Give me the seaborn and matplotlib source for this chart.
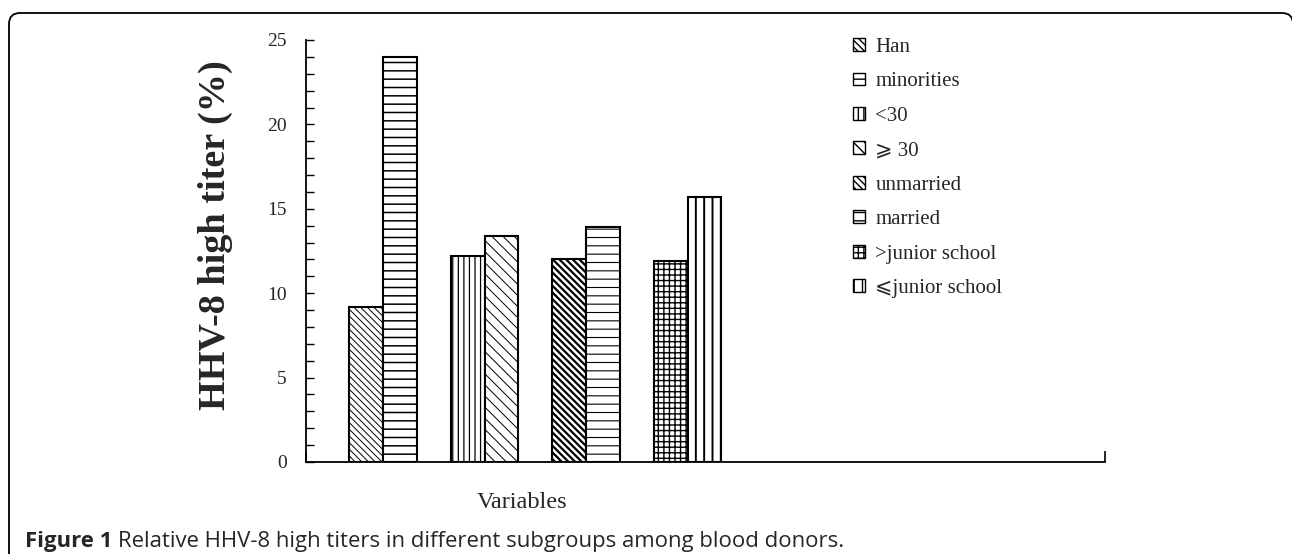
import matplotlib
matplotlib.use("Agg")
import matplotlib.pyplot as plt
import matplotlib.transforms as mtransforms
from matplotlib.patches import FancyBboxPatch, Patch
import seaborn as sns
import pandas as pd

# ---- data ----
groups = ["Ethnicity", "Age", "Marital status", "Education"]
slots = ["first", "second"]
labels = ["Han", "minorities", "<30", "\u2A7E 30", "unmarried", "married",
          ">junior school", "\u2A7Djunior school"]
values = [9.2, 24.0, 12.2, 13.4, 12.0, 13.9, 11.9, 15.7]
yticks = [0, 5, 10, 15, 20, 25]

hatches = ["\\" * 5, "--", "|||", "\\" * 3, "\\" * 5, "--", "+++", "||"]
hatch_lw = [0.7, 1.1, 0.9, 0.7, 1.6, 0.8, 1.0, 1.4]

df = pd.DataFrame({
    "group": [g for g in groups for _ in slots],
    "slot": slots * len(groups),
    "value": values,
})

sns.set_theme(style="white")
serif = ["Liberation Serif", "DejaVu Serif", "DejaVu Sans"]
plt.rcParams["font.family"] = serif
plt.rcParams["hatch.linewidth"] = 1.0
plt.rcParams["hatch.color"] = "black"

W, H = 1292, 554
fig = plt.figure(figsize=(W / 100, H / 100), dpi=100)
fig.patch.set_facecolor("white")

ax_left, ax_right, ax_bottom, ax_top = 306, 1105, 462, 40
ax = fig.add_axes([ax_left / W, 1 - ax_bottom / H,
                   (ax_right - ax_left) / W, (ax_bottom - ax_top) / H])

sns.barplot(data=df, x="group", y="value", hue="slot", order=groups,
            hue_order=slots, palette=["white", "white"], saturation=1,
            edgecolor="black", linewidth=1.5, width=0.667, errorbar=None,
            legend=False, ax=ax)


def style_patch(p, idx):
    p.set_hatch(hatches[idx])
    p.set_facecolor("white")
    p.set_edgecolor("black")
    if hasattr(p, "set_hatch_linewidth"):
        p.set_hatch_linewidth(hatch_lw[idx])


for si, cont in enumerate(ax.containers):
    for gi, bar in enumerate(cont):
        style_patch(bar, 2 * gi + si)

xmin, xmax = -0.759, 7.113
ax.set_xlim(xmin, xmax)
ax.set_ylim(0, 25)
ax.set_xticks([xmin, xmax])
ax.set_xticklabels([])
ax.set_yticks(yticks)
ax.set_yticklabels([str(v) for v in yticks], fontsize=14, family=serif)
ax.set_yticks(range(0, 26), minor=True)
ax.tick_params(axis="x", direction="in", length=8, width=1.2, color="black", bottom=True)
ax.tick_params(axis="y", which="both", direction="in", length=6, width=1.0,
               color="black", left=True, pad=14)
ax.set_xlabel("")
ax.set_ylabel("HHV-8 high titer (%)", fontsize=27.5, fontweight="bold", family=serif)
ax.yaxis.set_label_coords((233 - ax_left) / (ax_right - ax_left), 0.538)

for s in ["top", "right"]:
    ax.spines[s].set_visible(False)
for s in ["left", "bottom"]:
    ax.spines[s].set_color("black")
    ax.spines[s].set_linewidth(1.3)
ax.set_facecolor("white")

ax.text((522 - ax_left) / (ax_right - ax_left), (ax_bottom - 503) / (ax_bottom - ax_top),
        "Variables", transform=ax.transAxes, ha="center", va="center",
        fontsize=17.5, family=serif, clip_on=False)

handles = []
for i, h in enumerate(hatches):
    hp = Patch(facecolor="white", edgecolor="black", hatch=h, linewidth=1.0)
    style_patch(hp, i)
    handles.append(hp)
leg = fig.legend(handles, labels, loc="upper left",
                 bbox_to_anchor=(853 / W, 1 - 38 / H), frameon=False,
                 handlelength=0.57, handleheight=0.57, handletextpad=0.5,
                 labelspacing=0.74, borderpad=0, borderaxespad=0,
                 prop={"family": serif, "size": 15})

# caption
cap_font = ["Open Sans", "DejaVu Sans"]
t1 = fig.text(25 / W, 1 - 552 / H, "Figure 1", fontsize=15.9, fontweight="bold",
              family=cap_font, va="bottom", ha="left")
ax.annotate("Relative HHV-8 high titers in different subgroups among blood donors.",
            xy=(1, 0), xycoords=t1, xytext=(4, 0), textcoords="offset points",
            va="bottom", ha="left", fontsize=15.9, family=cap_font,
            annotation_clip=False)

# rounded frame
frame = FancyBboxPatch((9, -30), 1293 - 9, H - 13 + 30,
                       boxstyle="round,pad=0,rounding_size=11",
                       transform=mtransforms.IdentityTransform(),
                       facecolor="none", edgecolor="black", linewidth=1.3)
fig.patches.append(frame)

fig.savefig("out.png", dpi=100, facecolor="white")
